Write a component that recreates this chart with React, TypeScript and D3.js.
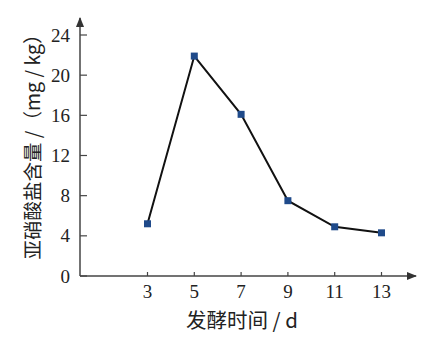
import React from "react";
import * as d3 from "d3";

const days = [3, 5, 7, 9, 11, 13];
const nitrite = [5.2, 21.9, 16.1, 7.5, 4.9, 4.3];
const yTicks = [0, 4, 8, 12, 16, 20, 24];
const xLabel = "发酵时间 / d";
const yLabel = "亚硝酸盐含量 /（mg / kg）";

export default function App() {
  const W = 424, H = 343;
  const axisX = 80, axisY = 276;
  const x = d3.scaleLinear().domain([3, 13]).range([147.5, 381.5]);
  const y = d3.scaleLinear().domain([0, 24]).range([276, 35]);
  const line = d3.line<number>().x((_, i) => x(days[i])).y((d) => y(d));
  const serif = "'Liberation Serif', 'Times New Roman', serif";
  const cjk = "'Noto Sans CJK SC', sans-serif";
  return (
    <svg width={W} height={H} style={{ position: "absolute", left: 0, top: 0 }}>
      <rect width={W} height={H} fill="#fff" />
      <defs>
        <marker id="arr" viewBox="0 0 10 10" refX="9" refY="5" markerWidth="7" markerHeight="7" orient="auto">
          <path d="M0,1 L10,5 L0,9 Z" fill="#333" />
        </marker>
      </defs>
      <line x1={axisX} y1={axisY} x2={axisX} y2={18} stroke="#444" strokeWidth={1.5} markerEnd="url(#arr)" />
      <line x1={axisX} y1={axisY} x2={416} y2={axisY} stroke="#444" strokeWidth={1.5} markerEnd="url(#arr)" />
      {yTicks.map((t) => (
        <g key={t}>
          <line x1={axisX} x2={axisX + 7} y1={y(t)} y2={y(t)} stroke="#444" strokeWidth={1.2} />
          <text x={70} y={y(t)} dy="0.35em" textAnchor="end" fontFamily={serif} fontSize={19} fill="#222">{t}</text>
        </g>
      ))}
      {days.map((d) => (
        <g key={d}>
          <line x1={x(d)} x2={x(d)} y1={axisY} y2={axisY - 4} stroke="#444" strokeWidth={1.2} />
          <text x={x(d)} y={298} textAnchor="middle" fontFamily={serif} fontSize={19} fill="#222">{d}</text>
        </g>
      ))}
      <path d={line(nitrite) || ""} fill="none" stroke="#111" strokeWidth={2} />
      {nitrite.map((v, i) => (
        <rect key={i} x={x(days[i]) - 3.5} y={y(v) - 3.5} width={7} height={7} fill="#1f4a8a" />
      ))}
      <text x={242} y={328} textAnchor="middle" fontFamily={cjk} fontSize={20.5} fill="#222">{xLabel}</text>
      <text transform={`translate(40,142) rotate(-90)`} textAnchor="middle" fontFamily={cjk} fontSize={19.5} fill="#222">{yLabel}</text>
    </svg>
  );
}
